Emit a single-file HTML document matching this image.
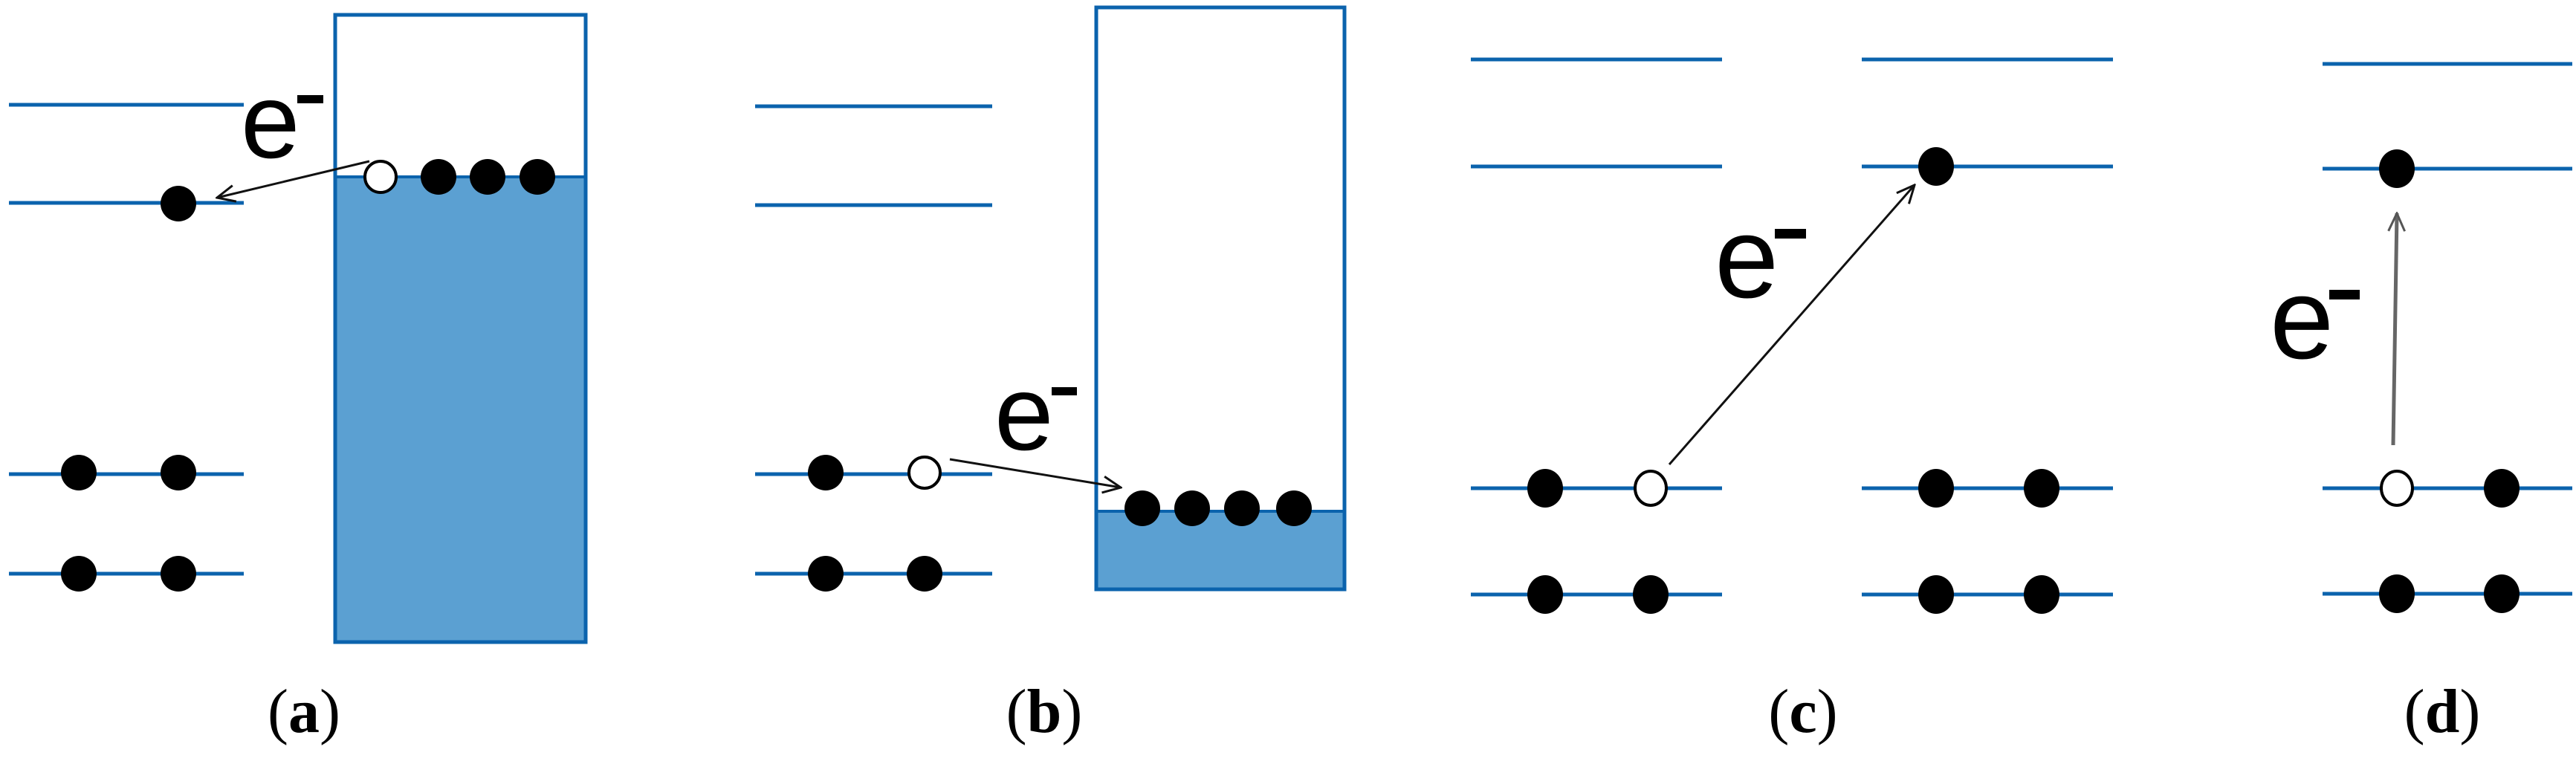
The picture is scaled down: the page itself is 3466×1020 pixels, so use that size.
<!DOCTYPE html>
<html><head><meta charset="utf-8"><style>
html,body{margin:0;padding:0;background:#fff;width:3466px;height:1020px;overflow:hidden}
svg{display:block}
.lbl{font-family:"Liberation Serif",serif;font-size:84px}
.e{font-family:"Liberation Sans",sans-serif;font-size:143px}
.e2{font-family:"Liberation Sans",sans-serif;font-size:155px}
</style></head><body>
<svg width="3466" height="1020" viewBox="0 0 3466 1020" xmlns="http://www.w3.org/2000/svg">
<defs>
<marker id="ah" markerWidth="30" markerHeight="30" refX="28" refY="15" orient="auto" markerUnits="userSpaceOnUse">
<path d="M4,4 L28,15 L4,26" fill="none" stroke="#111" stroke-width="3"/>
</marker>
<marker id="ahg" markerWidth="30" markerHeight="30" refX="28" refY="15" orient="auto" markerUnits="userSpaceOnUse">
<path d="M4,4 L28,15 L4,26" fill="none" stroke="#555" stroke-width="3"/>
</marker>
</defs>
<g stroke="#0b63ad" stroke-width="5">
<line x1="12" y1="141" x2="328" y2="141"/>
<line x1="12" y1="273" x2="328" y2="273"/>
<line x1="12" y1="638" x2="328" y2="638"/>
<line x1="12" y1="772" x2="328" y2="772"/>
<line x1="1016" y1="143" x2="1335" y2="143"/>
<line x1="1016" y1="276" x2="1335" y2="276"/>
<line x1="1016" y1="638" x2="1335" y2="638"/>
<line x1="1016" y1="772" x2="1335" y2="772"/>
<line x1="1979" y1="80" x2="2317" y2="80"/>
<line x1="1979" y1="224" x2="2317" y2="224"/>
<line x1="1979" y1="657" x2="2317" y2="657"/>
<line x1="1979" y1="800" x2="2317" y2="800"/>
<line x1="2505" y1="80" x2="2843" y2="80"/>
<line x1="2505" y1="224" x2="2843" y2="224"/>
<line x1="2505" y1="657" x2="2843" y2="657"/>
<line x1="2505" y1="800" x2="2843" y2="800"/>
<line x1="3125" y1="86" x2="3461" y2="86"/>
<line x1="3125" y1="227" x2="3461" y2="227"/>
<line x1="3125" y1="657" x2="3461" y2="657"/>
<line x1="3125" y1="799" x2="3461" y2="799"/>
</g>
<rect x="451" y="238" width="337" height="626" fill="#5ba0d2"/>
<rect x="451" y="20" width="337" height="844" fill="none" stroke="#0b63ad" stroke-width="5"/>
<line x1="451" y1="238" x2="788" y2="238" stroke="#0b63ad" stroke-width="4"/>
<rect x="1475" y="688" width="334" height="105" fill="#5ba0d2"/>
<rect x="1475" y="10" width="334" height="783" fill="none" stroke="#0b63ad" stroke-width="5"/>
<line x1="1475" y1="688" x2="1809" y2="688" stroke="#0b63ad" stroke-width="4"/>
<g fill="#000">
<circle cx="590" cy="238" r="24"/><circle cx="656" cy="238" r="24"/><circle cx="723" cy="238" r="24"/>
<circle cx="240" cy="274" r="24"/>
<circle cx="106" cy="636" r="24"/><circle cx="240" cy="636" r="24"/>
<circle cx="106" cy="772" r="24"/><circle cx="240" cy="772" r="24"/>
<circle cx="1537" cy="684" r="24"/><circle cx="1604" cy="684" r="24"/><circle cx="1671" cy="684" r="24"/><circle cx="1741" cy="684" r="24"/>
<circle cx="1111" cy="636" r="24"/>
<circle cx="1111" cy="772" r="24"/><circle cx="1244" cy="772" r="24"/>
<ellipse cx="2079" cy="657" rx="24" ry="26"/>
<ellipse cx="2079" cy="800" rx="24" ry="26"/><ellipse cx="2221" cy="800" rx="24" ry="26"/>
<ellipse cx="2605" cy="224" rx="24" ry="26"/>
<ellipse cx="2605" cy="657" rx="24" ry="26"/><ellipse cx="2747" cy="657" rx="24" ry="26"/>
<ellipse cx="2605" cy="800" rx="24" ry="26"/><ellipse cx="2747" cy="800" rx="24" ry="26"/>
<ellipse cx="3225" cy="227" rx="24" ry="26"/>
<ellipse cx="3366" cy="657" rx="24" ry="26"/>
<ellipse cx="3225" cy="799" rx="24" ry="26"/><ellipse cx="3366" cy="799" rx="24" ry="26"/>
</g>
<g fill="#fff" stroke="#000" stroke-width="4">
<circle cx="512" cy="238" r="21"/>
<circle cx="1244" cy="636" r="21"/>
<ellipse cx="2221" cy="657" rx="21" ry="23"/>
<ellipse cx="3225" cy="657" rx="21" ry="23"/>
</g>
<g fill="none" stroke="#111" stroke-width="3">
<line x1="497" y1="217" x2="292" y2="266" marker-end="url(#ah)"/>
<line x1="1278" y1="618" x2="1508" y2="656" marker-end="url(#ah)"/>
<line x1="2246" y1="625" x2="2576" y2="249" marker-end="url(#ah)"/>
</g>
<line x1="3220" y1="599" x2="3225" y2="287" stroke="#666" stroke-width="5" marker-end="url(#ahg)"/>
<text class="e" x="324" y="212">e</text><rect x="400" y="128" width="35" height="11" fill="#000"/>
<text class="e" x="1338" y="605">e</text><rect x="1415" y="521" width="34" height="11" fill="#000"/>
<text class="e2" x="2307" y="400">e</text><rect x="2388" y="308" width="42" height="13" fill="#000"/>
<text class="e2" x="3054" y="482">e</text><rect x="3134" y="390" width="41" height="13" fill="#000"/>
<text class="lbl" x="409" y="985" text-anchor="middle">(<tspan font-weight="bold">a</tspan>)</text>
<text class="lbl" x="1405" y="985" text-anchor="middle">(<tspan font-weight="bold">b</tspan>)</text>
<text class="lbl" x="2426" y="985" text-anchor="middle">(<tspan font-weight="bold">c</tspan>)</text>
<text class="lbl" x="3286" y="985" text-anchor="middle">(<tspan font-weight="bold">d</tspan>)</text>
</svg>
</body></html>
